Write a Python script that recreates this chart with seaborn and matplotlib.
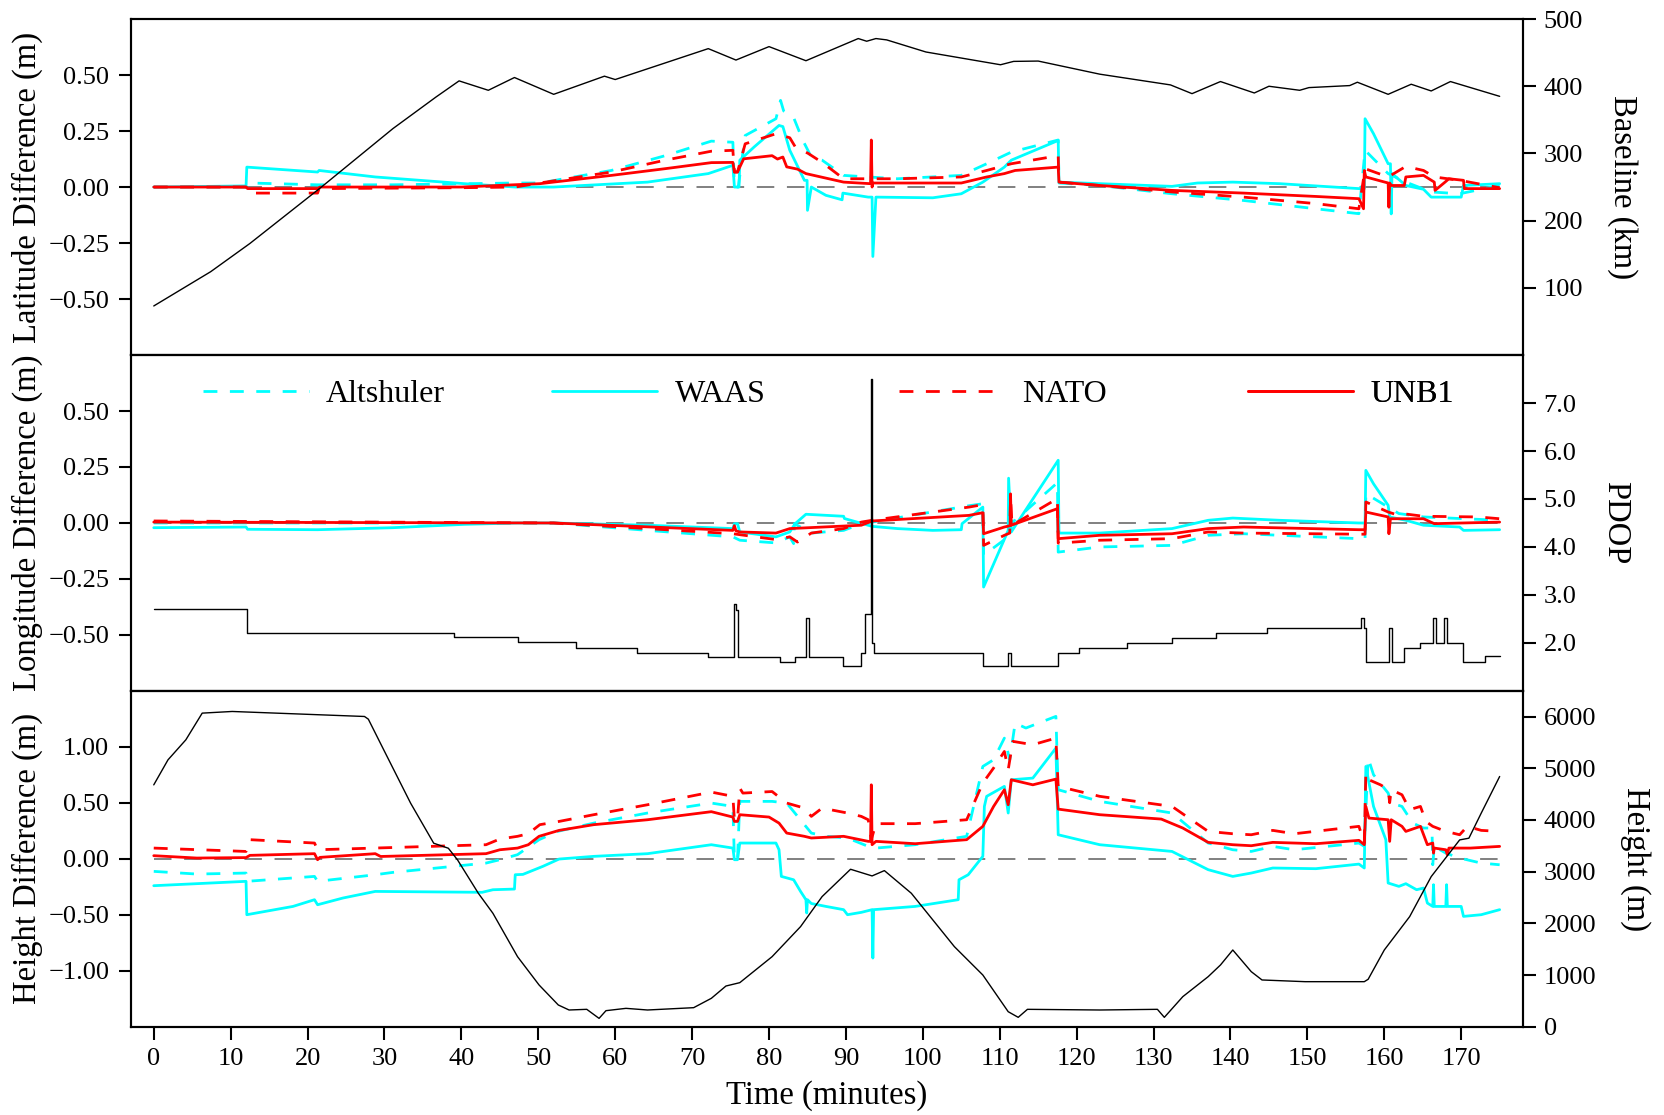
import matplotlib
matplotlib.use("Agg")
import matplotlib.pyplot as plt
from matplotlib.lines import Line2D
import seaborn as sns

# ---------------------------------------------------------------- data
series_names = ["Altshuler", "WAAS", "NATO", "UNB1"]
series_colors = {"Altshuler": "#00FFFF", "WAAS": "#00FFFF", "NATO": "#FF0000", "UNB1": "#FF0000"}
series_dashed = {"Altshuler": True, "WAAS": False, "NATO": True, "UNB1": False}

x_ticks = list(range(0, 171, 10))
zero_line_t = [0, 175]

# Latitude differences (m)
lat_t_alt = [0, 12.0, 12.5, 21.3, 31.1, 46.9, 50.2, 59.5, 66.5, 72.5, 75.3, 75.5, 76.0, 76.9, 80.9, 81.5, 81.9,
             83.2, 84.4, 85.5, 86.9, 89.7, 92.9, 96.7, 105.0, 108.3, 111.5, 117.6, 117.7, 123.0, 132.4, 141.7,
             151.1, 156.7, 157.5, 160.5, 162.8, 166.1, 169.8, 175.0]
lat_alt = [0.0, 0.0, 0.018, 0.01, 0.01, 0.018, 0.018, 0.074, 0.14, 0.205, 0.2, 0.0, 0.0, 0.23, 0.305, 0.387, 0.34,
           0.31, 0.208, 0.134, 0.12, 0.052, 0.045, 0.037, 0.052, 0.104, 0.156, 0.21, 0.018, 0.007, -0.03, -0.06,
           -0.097, -0.119, 0.164, 0.06, 0.022, -0.022, -0.03, 0.007]

lat_t_waas = [0, 12.0, 12.1, 21.3, 21.5, 28.8, 40.4, 47.0, 52.0, 64.2, 72.1, 75.3, 75.5, 76.1, 76.2, 78.1, 81.3,
              81.8, 82.7, 84.6, 84.95, 85.0, 85.5, 87.4, 89.5, 89.6, 92.9, 93.4, 93.5, 93.9, 101.3, 105.0, 107.8,
              110.6, 111.5, 117.6, 117.7, 123.0, 132.4, 135.7, 140.3, 146.4, 156.7, 157.4, 157.5, 158.6, 160.5,
              160.8, 160.9, 161.0, 162.8, 165.1, 166.1, 168.0, 170.0, 170.3, 175.0]
lat_waas = [0.0, 0.005, 0.089, 0.067, 0.074, 0.045, 0.015, 0.0, 0.0, 0.022, 0.06, 0.097, 0.0, 0.0, 0.12, 0.18, 0.275,
            0.27, 0.164, 0.03, 0.03, -0.104, 0.0, -0.037, -0.057, -0.027, -0.045, -0.045, -0.31, -0.045, -0.048,
            -0.03, 0.022, 0.089, 0.12, 0.208, 0.022, 0.015, 0.003, 0.018, 0.022, 0.015, -0.007, -0.007, 0.305,
            0.238, 0.104, 0.104, -0.12, 0.06, 0.007, -0.01, -0.045, -0.045, -0.045, 0.007, 0.015]

lat_t_nato = [0, 12.0, 12.5, 21.3, 21.5, 40.0, 47.0, 50.2, 59.5, 66.5, 72.5, 75.3, 75.5, 75.9, 76.9, 80.9, 82.7,
              83.4, 85.1, 86.9, 89.7, 96.7, 105.0, 108.3, 111.5, 117.6, 117.7, 123.0, 132.4, 141.7, 151.1, 156.7,
              157.5, 160.5, 162.8, 165.1, 166.5, 169.8, 175.0]
lat_nato = [0.0, 0.0, -0.027, -0.027, -0.007, -0.003, 0.0, 0.018, 0.067, 0.12, 0.16, 0.164, 0.067, 0.067, 0.193,
            0.238, 0.22, 0.18, 0.15, 0.11, 0.037, 0.037, 0.045, 0.074, 0.104, 0.14, 0.022, 0.007, -0.022, -0.045,
            -0.074, -0.097, 0.082, 0.045, 0.092, 0.074, 0.045, 0.03, -0.003]

lat_t_unb1 = [0, 12.0, 12.2, 21.4, 21.6, 40, 50.2, 59.5, 66.5, 72.5, 75.3, 75.5, 75.9, 76.7, 80.4, 81.1, 81.8, 82.3,
              83.7, 84.8, 89.7, 93.2, 93.3, 93.4, 93.5, 105.0, 108.3, 110.6, 112.0, 117.6, 117.7, 123.0, 132.4,
              141.7, 151.1, 156.7, 157.3, 157.4, 157.6, 160.5, 160.6, 160.7, 160.9, 162.6, 162.8, 165.1, 166.5,
              166.6, 167.9, 168.4, 170.3, 170.4, 175.0]
lat_unb1 = [0.0, 0.0, -0.007, -0.007, 0.0, 0.0, 0.015, 0.052, 0.082, 0.109, 0.11, 0.067, 0.067, 0.126, 0.14, 0.125,
            0.134, 0.09, 0.08, 0.06, 0.022, 0.015, 0.21, 0.0, 0.018, 0.018, 0.045, 0.06, 0.074, 0.089, 0.022, 0.007,
            -0.015, -0.027, -0.042, -0.052, -0.097, 0.074, 0.045, 0.018, -0.09, 0.018, 0.007, 0.007, 0.045, 0.052,
            0.022, -0.015, 0.022, 0.037, 0.03, -0.007, -0.007]

# Baseline length (km)
baseline_t = [0, 7.4, 12.5, 21.8, 31.1, 36.7, 39.7, 43.5, 46.9, 52.0, 58.6, 60.0, 72.1, 75.7, 80.0, 84.8, 91.6,
              92.7, 93.9, 95.3, 100.4, 110.1, 111.8, 115.0, 123.0, 132.2, 135.0, 138.7, 143.1, 145.0, 149.0, 150.2,
              155.5, 156.5, 160.5, 163.5, 166.1, 168.6, 175.0]
baseline_km = [73, 124, 166, 250, 337, 384, 408, 394, 413, 388, 415, 410, 456, 439, 459, 438, 471, 467, 471, 469,
               451, 432, 437, 437.5, 418, 402, 389, 407, 390, 400, 394, 398, 401, 406, 388, 403, 393, 407, 385]

# Longitude differences (m)
lon_t_alt = [0, 52, 64.2, 75.3, 76.2, 80.9, 82.7, 83.2, 83.3, 85.5, 89.7, 92.0, 93.4, 106.0, 107.8, 107.9, 111.1,
             111.2, 112.0, 117.5, 117.6, 123.0, 132.4, 137.1, 141.7, 156.7, 157.5, 157.6, 160.5, 161.9, 165.1,
             169.8, 175.0]
lon_alt = [0.0, 0.0, -0.033, -0.062, -0.077, -0.089, -0.062, -0.092, -0.003, -0.045, -0.033, -0.003, 0.004, 0.077,
           0.086, -0.144, -0.062, 0.0, 0.012, 0.18, -0.13, -0.107, -0.1, -0.055, -0.048, -0.07, -0.07, 0.131,
           0.071, 0.042, 0.027, 0.02, 0.012]

lon_t_waas = [0, 12.0, 12.2, 21.3, 31.1, 40.4, 47.3, 52, 64.2, 75.3, 75.5, 75.9, 76.2, 80.9, 82.7, 83.4, 84.8,
              89.7, 89.8, 93.4, 96.7, 101.3, 105.0, 105.1, 107.8, 107.9, 111.1, 111.15, 111.5, 117.6, 117.7, 123.0,
              132.4, 137.1, 140.3, 146.4, 156.7, 157.5, 157.6, 158.6, 160.5, 160.7, 162.8, 165.1, 169.8, 170.3,
              175.0]
lon_waas = [-0.021, -0.018, -0.028, -0.03, -0.021, -0.006, 0.0, 0.0, -0.01, -0.025, -0.003, -0.003, -0.04, -0.062,
            -0.04, -0.003, 0.039, 0.03, 0.02, -0.015, -0.025, -0.033, -0.03, -0.003, 0.071, -0.286, -0.033, 0.2,
            -0.04, 0.28, -0.045, -0.045, -0.025, 0.012, 0.022, 0.012, 0.0, 0.0, 0.235, 0.175, 0.079, 0.027, 0.012,
            -0.01, -0.018, -0.033, -0.03]

lon_t_nato = [0, 52, 64.2, 75.3, 80.9, 82.7, 83.7, 85.5, 89.7, 92.0, 93.4, 106.0, 107.8, 107.9, 110.6, 111.3,
              111.4, 111.6, 117.5, 117.6, 123.0, 132.4, 137.1, 141.7, 156.7, 157.5, 157.6, 160.5, 161.9, 162.8,
              165.1, 172.2, 175.0]
lon_nato = [0.009, 0.0, -0.025, -0.048, -0.074, -0.062, -0.085, -0.045, -0.025, 0.004, 0.012, 0.071, 0.082, -0.1,
            -0.055, -0.045, 0.116, -0.01, 0.109, -0.09, -0.077, -0.07, -0.04, -0.045, -0.05, -0.05, 0.094, 0.049,
            0.034, 0.04, 0.03, 0.027, 0.019]

lon_t_unb1 = [0, 52, 75.3, 75.5, 75.7, 76.2, 80.9, 82.7, 92.0, 93.4, 106.0, 107.8, 107.9, 110.6, 111.35, 111.4,
              111.5, 117.5, 117.6, 123.0, 132.4, 137.1, 141.7, 156.7, 157.5, 157.6, 160.5, 160.6, 160.8, 165.1,
              166.5, 175.0]
lon_unb1 = [0.004, 0.0, -0.033, -0.012, -0.035, -0.04, -0.045, -0.025, -0.01, 0.009, 0.034, 0.046, -0.048, -0.018,
            -0.012, 0.13, -0.01, 0.064, -0.07, -0.055, -0.048, -0.025, -0.018, -0.03, -0.03, 0.049, 0.027, -0.048,
            0.019, 0.019, -0.003, 0.004]

# PDOP (held constant between epochs)
pdop_t = [0, 12.1, 39.0, 47.3, 54.9, 62.8, 72.1, 75.5, 75.7, 75.95, 81.4, 83.4, 84.8, 85.2, 89.6, 92.0, 92.5,
          93.3, 93.45, 93.6, 107.8, 111.1, 111.5, 117.6, 120.3, 126.5, 132.4, 138.1, 144.8, 157.0, 157.3, 157.6,
          160.6, 161.0, 162.6, 164.7, 166.3, 166.7, 167.8, 168.2, 170.2, 173.1, 175.0]
pdop = [2.71, 2.21, 2.12, 2.01, 1.9, 1.8, 1.71, 2.81, 2.69, 1.71, 1.61, 1.71, 2.51, 1.71, 1.51, 1.8, 2.6,
        7.49, 1.99, 1.8, 1.51, 1.8, 1.51, 1.8, 1.9, 2.0, 2.11, 2.21, 2.32, 2.51, 2.32, 1.61,
        2.32, 1.61, 1.9, 2.0, 2.51, 2.0, 2.51, 2.0, 1.61, 1.72, 1.72]

# Height differences (m)
h_t_alt = [0, 5.6, 12.0, 12.1, 20.9, 21.3, 28.8, 31.1, 43.2, 45.0, 47.3, 50.1, 52.5, 57.2, 64.2, 72.5, 75.3, 75.5,
           75.9, 76.2, 80.4, 82.3, 84.6, 85.5, 87.4, 90.2, 92.9, 93.9, 99.0, 105.7, 107.8, 109.2, 110.6, 111.3,
           112.0, 113.4, 117.3, 117.6, 123.0, 132.4, 137.1, 140.3, 142.7, 145.5, 148.3, 156.7, 157.4, 157.9,
           158.6, 160.5, 160.9, 162.3, 163.7, 165.1, 166.2, 166.3, 166.5, 168.0, 169.8, 172.6, 175.0]
h_alt = [-0.113, -0.137, -0.128, -0.202, -0.158, -0.202, -0.143, -0.122, -0.039, -0.009, 0.036, 0.17, 0.244, 0.318,
         0.408, 0.497, 0.467, -0.009, -0.009, 0.512, 0.512, 0.497, 0.304, 0.229, 0.2, 0.185, 0.11, 0.095, 0.125,
         0.2, 0.824, 0.884, 1.077, 0.884, 1.211, 1.167, 1.271, 0.616, 0.512, 0.408, 0.14, 0.08, 0.065, 0.11, 0.08,
         0.14, 0.11, 0.899, 0.75, 0.586, 0.497, 0.467, 0.318, 0.274, 0.274, -0.054, 0.11, 0.05, 0.006, -0.039,
         -0.054]

h_t_waas = [0, 12.0, 12.1, 18.1, 20.9, 21.3, 24.6, 28.8, 42.7, 44.1, 46.9, 47.0, 48.0, 50.6, 52.7, 57.2, 64.2, 72.5,
            75.3, 75.5, 75.9, 76.2, 80.9, 81.3, 81.6, 83.2, 84.1, 84.8, 84.9, 85.0, 85.5, 87.4, 89.7, 90.2, 92.0,
            93.4, 93.5, 93.6, 99.0, 104.6, 104.7, 105.9, 107.8, 108.0, 108.3, 110.6, 111.1, 111.5, 114.3, 117.3,
            117.6, 123.0, 132.4, 137.1, 140.3, 142.7, 145.5, 151.1, 156.7, 157.4, 157.6, 158.6, 160.2, 160.5,
            161.9, 162.8, 164.2, 165.1, 165.6, 166.3, 166.4, 166.5, 168.0, 168.1, 168.2, 170.0, 170.3, 172.6,
            175.0]
h_waas = [-0.241, -0.202, -0.5, -0.426, -0.366, -0.411, -0.351, -0.292, -0.3, -0.277, -0.271, -0.143, -0.14,
          -0.068, -0.003, 0.021, 0.045, 0.125, 0.095, -0.009, -0.009, 0.14, 0.14, 0.08, -0.158, -0.188, -0.292,
          -0.366, -0.485, -0.366, -0.4, -0.426, -0.455, -0.5, -0.479, -0.455, -0.887, -0.455, -0.426, -0.366,
          -0.188, -0.143, 0.021, 0.467, 0.557, 0.646, 0.408, 0.705, 0.72, 0.988, 0.214, 0.125, 0.065, -0.098,
          -0.158, -0.128, -0.083, -0.089, -0.048, -0.083, 0.824, 0.467, 0.17, -0.217, -0.247, -0.223, -0.277,
          -0.262, -0.396, -0.426, -0.232, -0.426, -0.426, -0.232, -0.426, -0.426, -0.515, -0.5, -0.455]

h_t_nato = [0, 12.0, 12.5, 20.9, 21.3, 31.1, 43.2, 45.0, 47.3, 48.7, 50.2, 52.7, 57.2, 64.2, 72.5, 75.3, 75.5, 75.9,
            76.2, 76.6, 80.4, 82.3, 84.6, 85.5, 86.9, 90.2, 92.0, 92.9, 93.3, 93.9, 99.0, 105.7, 107.8, 109.2,
            110.6, 111.1, 111.7, 114.3, 117.3, 117.6, 123.0, 132.4, 137.1, 140.3, 142.7, 145.5, 148.3, 156.7,
            157.4, 157.6, 158.0, 159.5, 160.5, 160.7, 160.9, 162.3, 163.3, 164.7, 165.4, 166.3, 168.0, 169.8,
            170.8, 172.6, 175.0]
h_nato = [0.095, 0.065, 0.17, 0.14, 0.08, 0.1, 0.125, 0.176, 0.2, 0.223, 0.304, 0.333, 0.393, 0.482, 0.595, 0.557,
          0.348, 0.348, 0.63, 0.586, 0.6, 0.497, 0.452, 0.378, 0.452, 0.408, 0.378, 0.348, 0.17, 0.313, 0.313,
          0.348, 0.676, 0.81, 0.958, 0.795, 1.048, 1.018, 1.077, 0.646, 0.557, 0.467, 0.244, 0.223, 0.214, 0.253,
          0.223, 0.289, 0.14, 0.765, 0.705, 0.66, 0.62, 0.5, 0.616, 0.571, 0.438, 0.467, 0.333, 0.289, 0.244,
          0.214, 0.289, 0.253, 0.244]

h_t_unb1 = [0, 5.6, 12.0, 12.5, 20.9, 21.3, 21.6, 28.8, 29.5, 43.2, 45.0, 47.3, 48.7, 50.1, 52.7, 57.2, 64.2, 72.5,
            75.3, 75.5, 75.9, 76.2, 80.0, 81.3, 82.3, 84.6, 85.5, 89.7, 92.9, 93.2, 93.3, 93.4, 93.9, 99.0, 105.7,
            107.8, 109.2, 110.6, 111.1, 111.5, 114.3, 117.3, 117.6, 123.0, 131.0, 133.8, 137.1, 140.3, 142.7,
            145.5, 151.1, 156.7, 157.4, 157.6, 158.0, 160.5, 160.7, 160.9, 162.3, 162.8, 164.7, 165.6, 166.3,
            166.4, 166.5, 168.0, 168.2, 168.4, 171.2, 175.0]
h_unb1 = [0.027, 0.006, 0.01, 0.03, 0.045, -0.009, 0.012, 0.045, 0.02, 0.045, 0.08, 0.095, 0.125, 0.2, 0.253,
          0.304, 0.348, 0.42, 0.372, 0.333, 0.333, 0.393, 0.372, 0.318, 0.229, 0.2, 0.185, 0.2, 0.155, 0.155, 0.66,
          0.125, 0.155, 0.134, 0.17, 0.289, 0.467, 0.616, 0.482, 0.705, 0.66, 0.711, 0.443, 0.393, 0.354, 0.274,
          0.146, 0.125, 0.116, 0.146, 0.134, 0.164, 0.125, 0.467, 0.363, 0.348, 0.155, 0.348, 0.289, 0.244, 0.289,
          0.125, 0.14, 0.05, 0.095, 0.08, 0.035, 0.095, 0.095, 0.11]

# Aircraft height (m)
height_t = [0, 1.85, 4.17, 6.3, 10.2, 27.4, 27.9, 29.9, 33.4, 36.4, 38.3, 39.5, 42.2, 44.1, 47.3, 50.1, 52.6, 54.0,
            56.3, 57.9, 58.8, 61.4, 64.2, 70.2, 72.5, 74.4, 76.2, 80.4, 84.1, 86.9, 90.6, 93.4, 95.0, 98.5, 104.1,
            107.8, 111.1, 112.4, 113.6, 123.0, 130.5, 131.4, 133.8, 137.1, 138.7, 140.3, 142.7, 144.1, 149.7,
            157.4, 157.9, 160.0, 163.3, 166.1, 169.8, 171.0, 172.6, 175.0]
height_m = [4679, 5163, 5550, 6067, 6099, 6002, 5950, 5357, 4324, 3550, 3453, 3227, 2582, 2194, 1355, 807, 420, 323,
            336, 161, 310, 355, 323, 368, 549, 787, 852, 1355, 1936, 2517, 3046, 2917, 3020, 2582, 1549, 1000, 290,
            181, 336, 323, 336, 181, 581, 968, 1194, 1484, 1065, 904, 871, 871, 917, 1484, 2130, 2904, 3614, 3647,
            4131, 4841]

# ---------------------------------------------------------------- style
sns.set_style("ticks")
plt.rcParams.update({
    "font.family": ["Liberation Serif", "DejaVu Serif"],
    "axes.edgecolor": "black",
    "axes.labelcolor": "black",
    "text.color": "black",
    "xtick.color": "black",
    "ytick.color": "black",
    "axes.linewidth": 1.5,
    "axes.unicode_minus": True,
})

TICK_FS = 19
LABEL_FS = 23.5
LEGEND_FS = 23
DASH = (0, (5, 4.5))
XLIM = (-2.9, 178.0)

fig = plt.figure(figsize=(16.64, 11.15), dpi=100)
left, width, height = 0.0790, 0.8361, 0.3013
bottoms = [0.6816, 0.3803, 0.0792]
axes = [fig.add_axes([left, b, width, height]) for b in bottoms]


def draw_differences(ax, data):
    for name, t, v in data:
        sns.lineplot(x=t, y=v, ax=ax, color=series_colors[name],
                     linestyle=DASH if series_dashed[name] else "-",
                     lw=2.0, estimator=None, sort=False, legend=False)
    ax.plot(zero_line_t, [0, 0], color="#808080", lw=1.4, linestyle=(0, (9, 6.5)), zorder=0.5)


def style_left(ax, ylim, ticks, fmt, label):
    ax.set_xlim(*XLIM)
    ax.set_ylim(*ylim)
    ax.set_yticks(ticks)
    ax.set_yticklabels([fmt.format(v).replace("-", "\u2212") for v in ticks])
    ax.tick_params(axis="y", labelsize=TICK_FS, length=9, width=1.5, pad=7, direction="out")
    ax.set_ylabel(label, fontsize=LABEL_FS, labelpad=4)
    ax.set_xlabel("")


def style_right(axr, ylim, ticks, fmt, label):
    axr.set_ylim(*ylim)
    axr.set_yticks(ticks)
    axr.set_yticklabels([fmt.format(v) for v in ticks])
    axr.tick_params(axis="y", labelsize=TICK_FS, length=9, width=1.5, pad=6, direction="out")
    axr.set_ylabel(label, fontsize=LABEL_FS, rotation=270, va="bottom", labelpad=17)
    axr.set_xlabel("")


# Panel 1: latitude difference and baseline length
ax1 = axes[0]
draw_differences(ax1, [("Altshuler", lat_t_alt, lat_alt), ("WAAS", lat_t_waas, lat_waas),
                       ("NATO", lat_t_nato, lat_nato), ("UNB1", lat_t_unb1, lat_unb1)])
style_left(ax1, (-0.75, 0.75), [-0.5, -0.25, 0.0, 0.25, 0.5], "{:.2f}", "Latitude Difference (m)")
ax1r = ax1.twinx()
sns.lineplot(x=baseline_t, y=baseline_km, ax=ax1r, color="black", lw=1.0, estimator=None, sort=False)
style_right(ax1r, (0, 500), [100, 200, 300, 400, 500], "{:d}", "Baseline (km)")

# Panel 2: longitude difference and PDOP
ax2 = axes[1]
draw_differences(ax2, [("Altshuler", lon_t_alt, lon_alt), ("WAAS", lon_t_waas, lon_waas),
                       ("NATO", lon_t_nato, lon_nato), ("UNB1", lon_t_unb1, lon_unb1)])
style_left(ax2, (-0.75, 0.75), [-0.5, -0.25, 0.0, 0.25, 0.5], "{:.2f}", "Longitude Difference (m)")
ax2r = ax2.twinx()
sns.lineplot(x=pdop_t, y=pdop, ax=ax2r, color="black", lw=1.0, estimator=None, sort=False,
             drawstyle="steps-post")
style_right(ax2r, (1, 8), [2, 3, 4, 5, 6, 7], "{:.1f}", "PDOP")

# Panel 3: height difference and aircraft height
ax3 = axes[2]
draw_differences(ax3, [("Altshuler", h_t_alt, h_alt), ("WAAS", h_t_waas, h_waas),
                       ("NATO", h_t_nato, h_nato), ("UNB1", h_t_unb1, h_unb1)])
style_left(ax3, (-1.5, 1.5), [-1.0, -0.5, 0.0, 0.5, 1.0], "{:.2f}", "Height Difference (m)")
ax3r = ax3.twinx()
sns.lineplot(x=height_t, y=height_m, ax=ax3r, color="black", lw=1.0, estimator=None, sort=False)
style_right(ax3r, (0, 6500), [0, 1000, 2000, 3000, 4000, 5000, 6000], "{:d}", "Height (m)")

# shared time axis
for ax in axes[:2]:
    ax.tick_params(axis="x", bottom=False, labelbottom=False)
ax3.set_xticks(x_ticks)
ax3.set_xticklabels([str(v) for v in x_ticks])
ax3.tick_params(axis="x", labelsize=TICK_FS, length=9, width=1.5, pad=6, direction="out")
ax3.set_xlabel("Time (minutes)", fontsize=LABEL_FS, labelpad=8)
for ax in axes:
    ax.set_xlim(*XLIM)

# legend entries spread across the top of the middle panel
legend_x = [0.0516, 0.3023, 0.5517, 0.8022]
for name, xf in zip(series_names, legend_x):
    handle = Line2D([], [], color=series_colors[name], lw=2.0,
                    linestyle=DASH if series_dashed[name] else "-")
    leg = ax2r.legend([handle], [name], loc="center left", bbox_to_anchor=(xf, 0.882),
                      frameon=False, fontsize=LEGEND_FS, handlelength=3.3, handletextpad=0.55,
                      borderpad=0, borderaxespad=0)
    ax2r.add_artist(leg)

fig.savefig("out.png", dpi=100)
